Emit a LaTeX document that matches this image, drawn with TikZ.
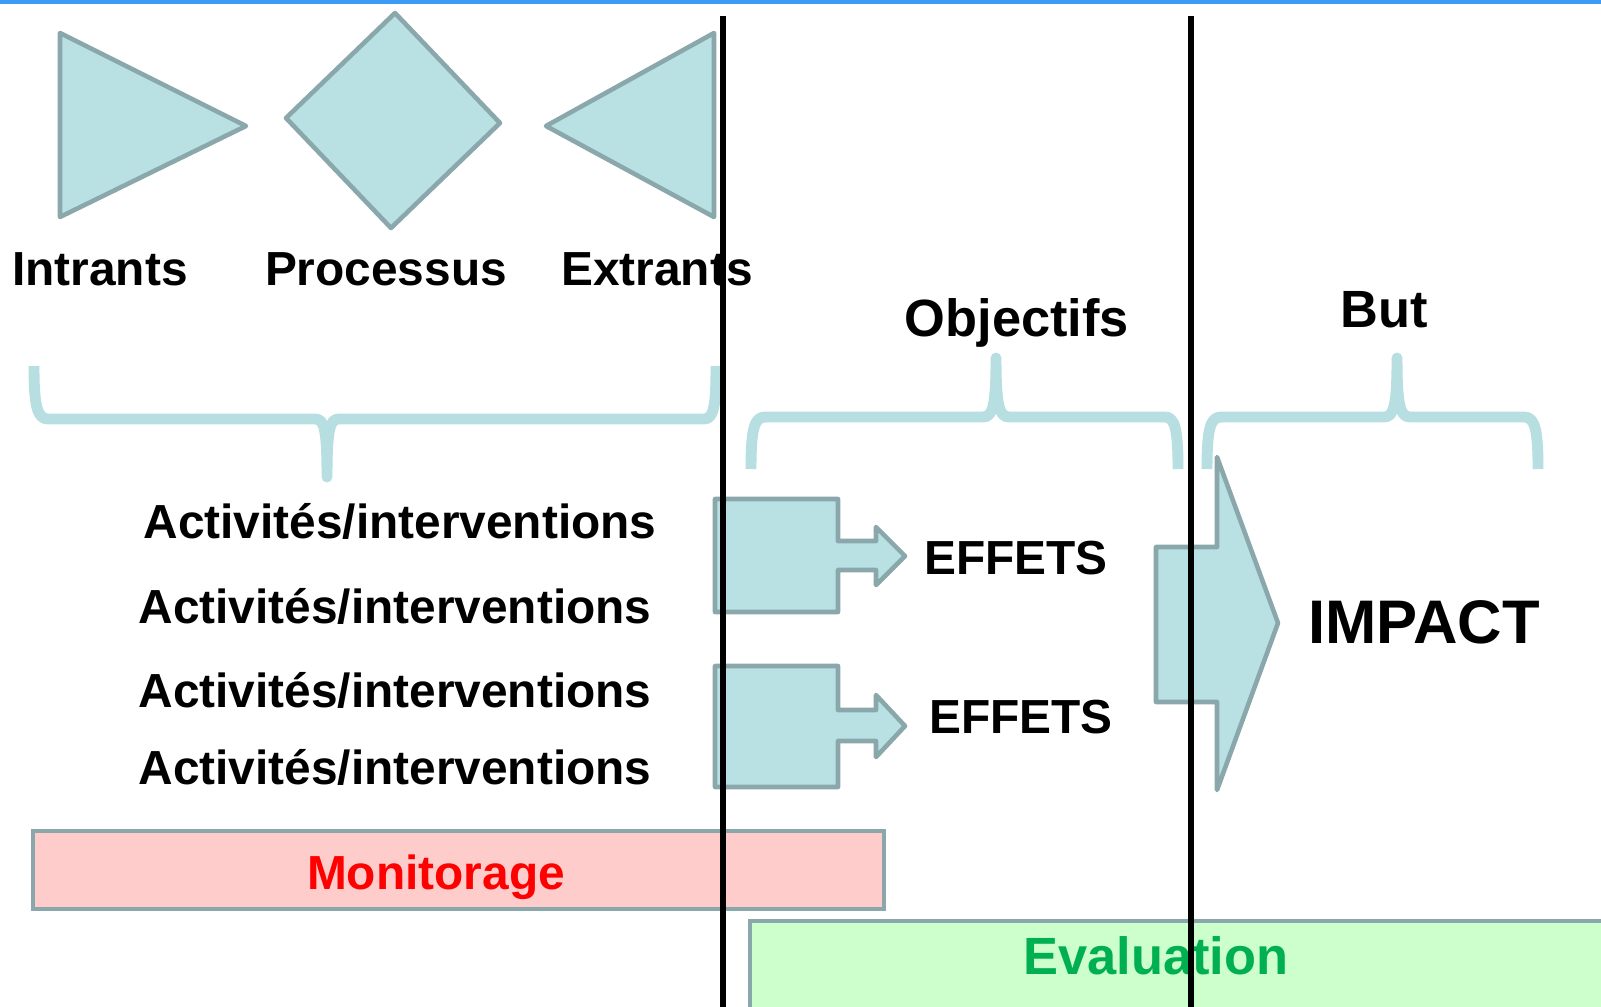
\documentclass[tikz,border=0pt]{standalone}
\usepackage{fontspec}
\setmainfont{Liberation Sans}
\definecolor{shapefill}{HTML}{B9E0E3}
\definecolor{shapeline}{HTML}{8AA8AB}
\definecolor{bracecol}{HTML}{B7DEE1}
\definecolor{monfill}{HTML}{FFCCCC}
\definecolor{evafill}{HTML}{CCFFCC}
\definecolor{topblue}{HTML}{3D9BF5}
\definecolor{evagreen}{HTML}{00B050}
\tikzset{
  px/.style={x=0.01cm,y=-0.01cm},
  shp/.style={fill=shapefill,draw=shapeline,line width=1.3pt,line join=round},
  brace/.style={draw=bracecol,line width=3.1pt,line join=round,line cap=butt},
  lbl/.style={inner sep=0pt,anchor=base,font=\bfseries\fontsize{13.6}{16}\selectfont},
  lblb/.style={inner sep=0pt,anchor=base,font=\bfseries\fontsize{14.9}{18}\selectfont},
  bar/.style={draw=shapeline,line width=1.15pt},
  sep/.style={draw=black,line width=1.7pt}
}
\begin{document}
\begin{tikzpicture}[px]
\useasboundingbox (0,0) rectangle (1601,1006);
\begin{scope}
\clip (0,0) rectangle (1601,1006);
\fill[topblue] (0,0) rectangle (1601,4);
% shapes
\draw[shp] (60,33) -- (246,126) -- (60,217) -- cycle;
\draw[shp] (395,13) -- (500,123) -- (391,228) -- (286,118) -- cycle;
\draw[shp] (714,33) -- (546,126) -- (714,217) -- cycle;
% braces
\draw[brace] (34,366) .. controls (34,405) and (37,419) .. (48,419) -- (315,419)
  .. controls (324,419) and (327,428) .. (327,477)
  .. controls (327,428) and (330,419) .. (339,419) -- (704,419)
  .. controls (714,419) and (716,405) .. (716,366);
\draw[brace] (751,469) .. controls (751,430) and (754,417) .. (765,417) -- (983,417)
  .. controls (993,417) and (996,405) .. (996,358)
  .. controls (996,405) and (999,417) .. (1009,417) -- (1165,417)
  .. controls (1175,417) and (1178,430) .. (1178,469);
\draw[brace] (1207,469) .. controls (1207,430) and (1210,417) .. (1221,417) -- (1384,417)
  .. controls (1394,417) and (1397,405) .. (1397,358)
  .. controls (1397,405) and (1400,417) .. (1410,417) -- (1524,417)
  .. controls (1535,417) and (1538,430) .. (1538,469);
% arrows
\draw[shp] (715,499) -- (838,499) -- (838,541) -- (876,541) -- (876,527) -- (905,556)
  -- (876,585) -- (876,570) -- (838,570) -- (838,612) -- (715,612) -- cycle;
\draw[shp] (715,666) -- (838,666) -- (838,710) -- (876,710) -- (876,695) -- (905,726)
  -- (876,757) -- (876,741) -- (838,741) -- (838,787) -- (715,787) -- cycle;
\draw[shp] (1156,547) -- (1217,547) -- (1217,457) -- (1278,623) -- (1217,790)
  -- (1217,702) -- (1156,702) -- cycle;
% bars
\draw[bar,fill=monfill] (33,831) rectangle (884,909);
\draw[bar,fill=evafill] (750,921) rectangle (1650,1050);
% texts
\node[lbl] (intr) at (100,285) {Intrants};
\node[lbl] (proc) at (386,285) {Processus};
\node[lbl] (extr) at (657,285) {Extrants};
\node[lblb] (obj) at (1017,336) {Objectifs};
\node[lblb] (but) at (1384,327) {But};
\node[lbl] (act1) at (400,538) {Activités/interventions};
\node[lbl] (act2) at (395,623) {Activités/interventions};
\node[lbl] (act3) at (395,707) {Activités/interventions};
\node[lbl] (act4) at (395,784) {Activités/interventions};
\node[lbl] (eff1) at (1016,574) {EFFETS};
\node[lbl] (eff2) at (1021,733) {EFFETS};
\node[inner sep=0pt,anchor=base,font=\bfseries\fontsize{17.5}{20}\selectfont] (imp) at (1424,643) {IMPACT};
\node[lbl,text=red] (mon) at (436,889) {Monitorage};
\node[lblb,text=evagreen] (eva) at (1156,974) {Evaluation};
% separators
\draw[sep] (723,16) -- (723,1020);
\draw[sep] (1191,16) -- (1191,1020);
\end{scope}
\end{tikzpicture}
\end{document}
